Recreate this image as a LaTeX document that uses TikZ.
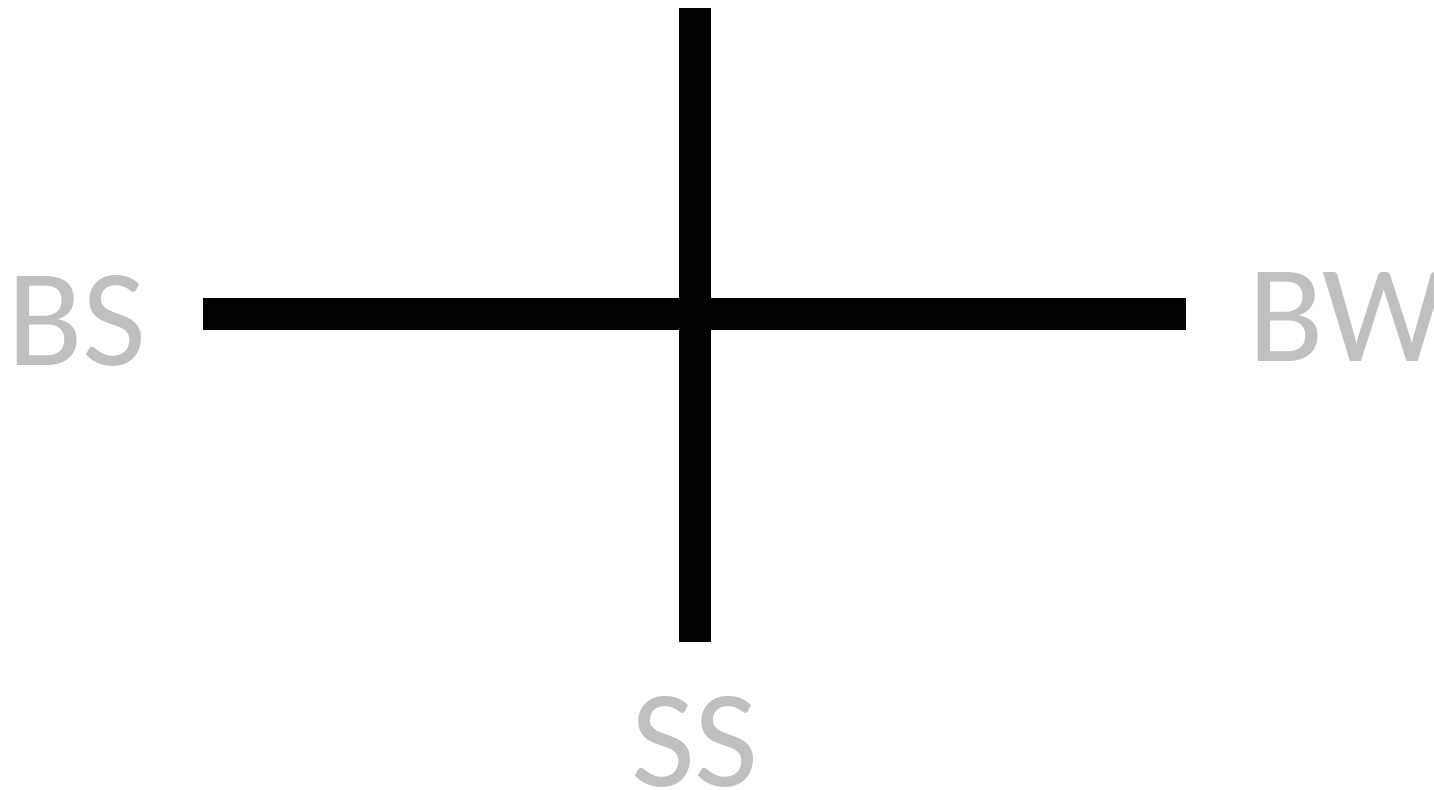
\documentclass[tikz,border=0pt]{standalone}
\usepackage{fontspec}
\setmainfont{Carlito}
\definecolor{lblgray}{HTML}{BFBFBF}
\begin{document}
\begin{tikzpicture}[x=0.02cm,y=-0.02cm,
  lbl/.style={inner sep=0pt,text=lblgray,font=\fontsize{79}{90}\selectfont},
  bar/.style={line width=0.64cm,black,line cap=butt}]
\useasboundingbox (0,0) rectangle (1434,790);
\coordinate (top) at (695,8);
\coordinate (bot) at (695,642);
\coordinate (left) at (203,314);
\coordinate (right) at (1186,314);
\draw[bar] (top) -- (bot);
\draw[bar] (left) -- (right);
\node[lbl,anchor=base west] (bs) at (7,366) {BS};
\node[lbl,anchor=base west] (bw) at (1248,362) {BW};
\node[lbl,anchor=base] (ss) at (695,786) {SS};
\end{tikzpicture}
\end{document}
